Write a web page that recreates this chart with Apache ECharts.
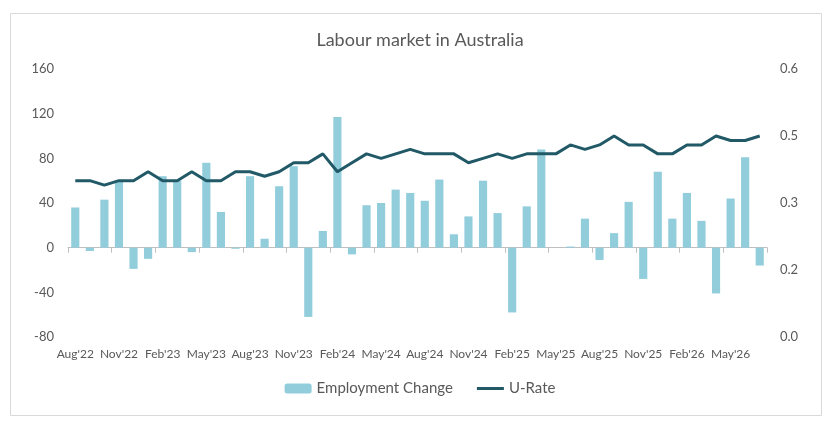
<!DOCTYPE html>
<html>
<head>
<meta charset="utf-8">
<script src="https://cdn.jsdelivr.net/npm/echarts@6/dist/echarts.min.js"></script>
<style>
  html, body { margin: 0; padding: 0; background: #fff; }
  #chart { width: 840px; height: 429px; }
</style>
</head>
<body>
<div id="chart"></div>
<script>
var months = [
  "Aug'22", "Sep'22", "Oct'22", "Nov'22", "Dec'22", "Jan'23",
  "Feb'23", "Mar'23", "Apr'23", "May'23", "Jun'23", "Jul'23",
  "Aug'23", "Sep'23", "Oct'23", "Nov'23", "Dec'23", "Jan'24",
  "Feb'24", "Mar'24", "Apr'24", "May'24", "Jun'24", "Jul'24",
  "Aug'24", "Sep'24", "Oct'24", "Nov'24", "Dec'24", "Jan'25",
  "Feb'25", "Mar'25", "Apr'25", "May'25", "Jun'25", "Jul'25",
  "Aug'25", "Sep'25", "Oct'25", "Nov'25", "Dec'25", "Jan'26",
  "Feb'26", "Mar'26", "Apr'26", "May'26", "Jun'26", "Jul'26"
];

// employment change, thousands (left axis)
var employmentChange = [
  36, -3, 43, 60, -19, -10,
  64, 60, -4, 76, 32, -1,
  64, 8, 55, 73, -62, 15,
  117, -6, 38, 40, 52, 49,
  42, 61, 12, 28, 60, 31,
  -58, 37, 88, 0, 1, 26,
  -11, 13, 41, -28, 68, 26,
  49, 24, -41, 44, 81, -16
];

// unemployment rate (right axis)
var uRate = [
  0.35, 0.35, 0.34, 0.35, 0.35, 0.37,
  0.35, 0.35, 0.37, 0.35, 0.35, 0.37,
  0.37, 0.36, 0.37, 0.39, 0.39, 0.41,
  0.37, 0.39, 0.41, 0.40, 0.41, 0.42,
  0.41, 0.41, 0.41, 0.39, 0.40, 0.41,
  0.40, 0.41, 0.41, 0.41, 0.43, 0.42,
  0.43, 0.45, 0.43, 0.43, 0.41, 0.41,
  0.43, 0.43, 0.45, 0.44, 0.44, 0.45
];

var textColor = '#595959';
var fontName = 'Lato, "Open Sans", sans-serif';

var chart = echarts.init(document.getElementById('chart'));

var option = {
  animation: false,
  textStyle: { fontFamily: fontName },
  title: {
    text: 'Labour market in Australia',
    left: 'center',
    top: 26,
    textStyle: { fontSize: 18, fontWeight: 'normal', color: textColor, fontFamily: fontName }
  },
  legend: {
    bottom: 28,
    left: 'center',
    itemGap: 24,
    itemWidth: 27,
    itemHeight: 10,
    textStyle: { fontSize: 15, color: textColor, fontFamily: fontName },
    data: [
      { name: 'Employment Change' },
      // plain line swatch, no marker
      { name: 'U-Rate', icon: 'path://M0,0 L0,0 M0,10 L0,10 M0,3.5 L27,3.5 L27,6.5 L0,6.5 Z' }
    ]
  },
  grid: {
    left: 68,
    right: 73,
    top: 69,
    bottom: 92
  },
  graphic: [{
    type: 'rect',
    shape: { x: 10.5, y: 13.5, width: 811, height: 402 },
    style: { fill: 'none', stroke: '#d9d9d9', lineWidth: 1 },
    silent: true
  }],
  xAxis: [
    {
      // axis line + ticks sitting on zero
      type: 'category',
      data: months,
      axisLine: { onZero: true, lineStyle: { color: '#bfbfbf', width: 1 } },
      axisTick: { show: true, interval: 2, length: 5, lineStyle: { color: '#bfbfbf' } },
      axisLabel: { show: false },
      splitLine: { show: false }
    },
    {
      // labels at the bottom
      type: 'category',
      data: months,
      position: 'bottom',
      axisLine: { show: false, onZero: false },
      axisTick: { show: false },
      axisLabel: {
        interval: 2,
        margin: 11,
        fontSize: 12,
        color: textColor,
        fontFamily: fontName
      },
      splitLine: { show: false }
    }
  ],
  yAxis: [
    {
      type: 'value',
      min: -80,
      max: 160,
      interval: 40,
      axisLine: { show: false },
      axisTick: { show: false },
      splitLine: { show: false },
      axisLabel: { fontSize: 13, color: textColor, margin: 14, fontFamily: fontName }
    },
    {
      type: 'value',
      min: 0,
      max: 0.6,
      interval: 0.15,
      axisLine: { show: false },
      axisTick: { show: false },
      splitLine: { show: false },
      axisLabel: {
        fontSize: 13,
        color: textColor,
        margin: 13,
        fontFamily: fontName,
        formatter: function(v) {
          return (Math.round(v * 10) / 10).toFixed(1);
        }
      }
    }
  ],
  series: [
    {
      name: 'Employment Change',
      type: 'bar',
      xAxisIndex: 0,
      yAxisIndex: 0,
      data: employmentChange,
      barCategoryGap: '44%',
      itemStyle: { color: '#92cddc' }
    },
    {
      name: 'U-Rate',
      type: 'line',
      xAxisIndex: 0,
      yAxisIndex: 1,
      data: uRate,
      symbol: 'none',
      lineStyle: { color: '#215967', width: 3 },
      itemStyle: { color: '#215967' }
    }
  ]
};

chart.setOption(option);
</script>
</body>
</html>
